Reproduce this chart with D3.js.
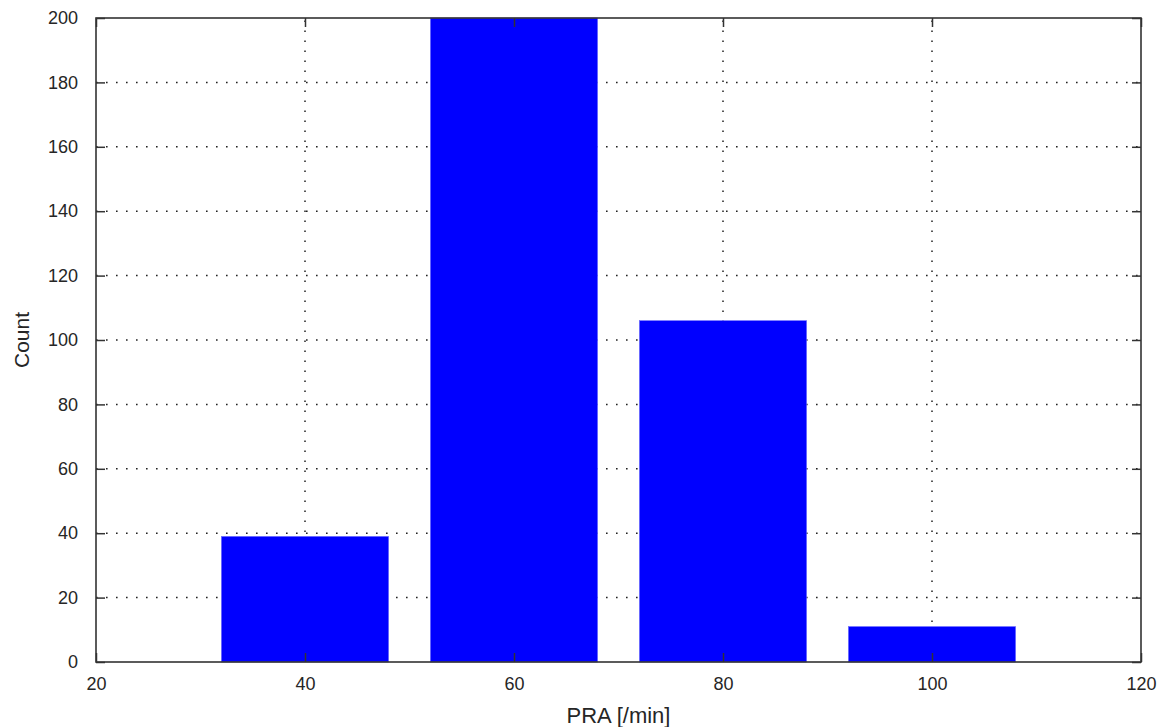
<!DOCTYPE html>
<html>
<head>
<meta charset="utf-8">
<script src="https://cdn.jsdelivr.net/npm/d3@7"></script>
<style>
  html, body { margin: 0; padding: 0; background: #fff; }
  svg { display: block; }
  text { font-family: "Liberation Sans", Arial, sans-serif; fill: #262626; }
</style>
</head>
<body>
<svg id="chart" width="1164" height="727"></svg>
<script>
// Data
const binCenters = [40, 60, 80, 100];
const counts = [39, 200, 106, 11];
const xTicks = [20, 40, 60, 80, 100, 120];
const yTicks = [0, 20, 40, 60, 80, 100, 120, 140, 160, 180, 200];
const xLabel = "PRA [/min]";
const yLabel = "Count";
const binWidth = 20;
const barFraction = 0.8;

const svg = d3.select("#chart");
const margin = { left: 96, right: 1164 - 1141, top: 18, bottom: 727 - 662 };
const W = 1164, H = 727;
const x = d3.scaleLinear().domain([20, 120]).range([margin.left, W - margin.right]);
const y = d3.scaleLinear().domain([0, 200]).range([H - margin.bottom, margin.top]);

const gridColor = "#222";
const tickLen = 9;

// Grid
const grid = svg.append("g");
grid.selectAll("line.gx").data(xTicks.slice(1, -1)).enter().append("line")
  .attr("x1", d => x(d)).attr("x2", d => x(d))
  .attr("y1", y(0)).attr("y2", y(200))
  .attr("stroke", gridColor).attr("stroke-width", 1.5)
  .attr("stroke-dasharray", "1.6 8.4");
grid.selectAll("line.gy").data(yTicks.slice(1, -1)).enter().append("line")
  .attr("y1", d => y(d)).attr("y2", d => y(d))
  .attr("x1", x(20)).attr("x2", x(120))
  .attr("stroke", gridColor).attr("stroke-width", 1.5)
  .attr("stroke-dasharray", "1.6 8.4");

// Bars
svg.append("g").selectAll("rect").data(binCenters).enter().append("rect")
  .attr("x", (d) => x(d - binWidth * barFraction / 2))
  .attr("width", (d) => x(d + binWidth * barFraction / 2) - x(d - binWidth * barFraction / 2))
  .attr("y", (d, i) => y(counts[i]))
  .attr("height", (d, i) => y(0) - y(counts[i]))
  .attr("fill", "#0000ff")
  .attr("stroke", "#6a6aff").attr("stroke-width", 0.6);

// Axes
const fs = 18;
const xAxisB = d3.axisBottom(x).tickValues(xTicks).tickSizeInner(-tickLen).tickSizeOuter(0).tickPadding(tickLen + 6);
const xAxisT = d3.axisTop(x).tickValues(xTicks).tickSizeInner(-tickLen).tickSizeOuter(0).tickFormat("");
const yAxisL = d3.axisLeft(y).tickValues(yTicks).tickSizeInner(-tickLen).tickSizeOuter(0).tickPadding(tickLen + 9);
const yAxisR = d3.axisRight(y).tickValues(yTicks).tickSizeInner(-tickLen).tickSizeOuter(0).tickFormat("");

function styleAxis(g) {
  g.select(".domain").remove();
  g.selectAll(".tick line").attr("stroke", "#333").attr("stroke-width", 1.5);
  g.selectAll(".tick text").style("font-size", fs + "px").attr("fill", "#262626")
    .style("font-family", "'Liberation Sans', Arial, sans-serif");
}
svg.append("g").attr("transform", `translate(0,${y(0)})`).call(xAxisB).call(styleAxis);
svg.append("g").attr("transform", `translate(0,${y(200)})`).call(xAxisT).call(styleAxis);
svg.append("g").attr("transform", `translate(${x(20)},0)`).call(yAxisL).call(styleAxis);
svg.append("g").attr("transform", `translate(${x(120)},0)`).call(yAxisR).call(styleAxis);

// Frame
svg.append("rect")
  .attr("x", x(20)).attr("y", y(200))
  .attr("width", x(120) - x(20)).attr("height", y(0) - y(200))
  .attr("fill", "none").attr("stroke", "#333").attr("stroke-width", 1.6);

// Labels
svg.append("text").attr("x", (x(20) + x(120)) / 2).attr("y", 723)
  .attr("text-anchor", "middle").style("font-size", "22px").text(xLabel);
svg.append("text").attr("transform", `translate(29,${(y(0) + y(200)) / 2}) rotate(-90)`)
  .attr("text-anchor", "middle").style("font-size", "21px").text(yLabel);
</script>
</body>
</html>
